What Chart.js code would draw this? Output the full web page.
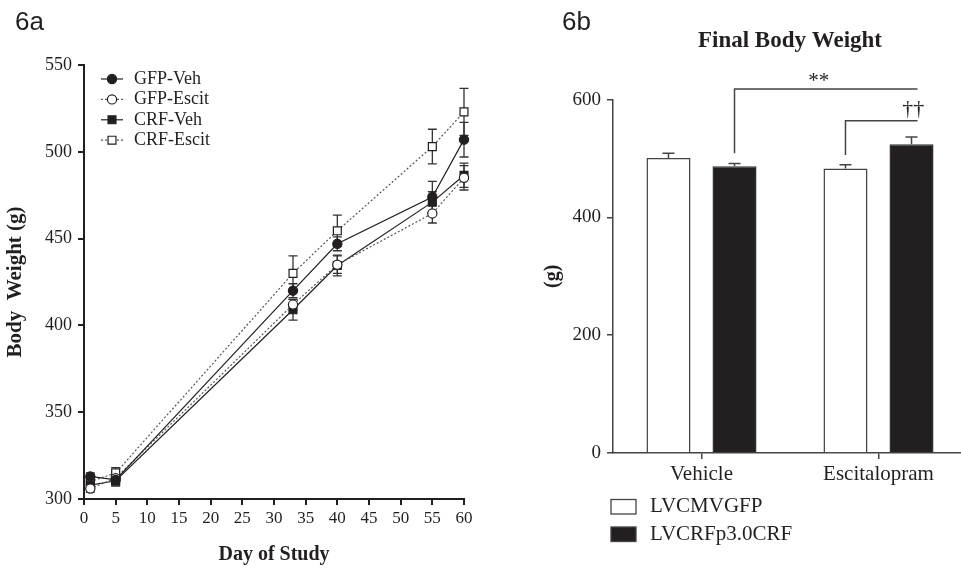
<!DOCTYPE html>
<html>
<head>
<meta charset="utf-8">
<script src="https://cdn.jsdelivr.net/npm/chart.js@4.4.1/dist/chart.umd.min.js"></script>
<style>
  html, body { margin: 0; padding: 0; background: #fff; overflow: hidden; }
  #wrap { position: relative; width: 961px; height: 574px; overflow: hidden; }
  #lineCanvas { position: absolute; left: 0; top: 0; }
  #barCanvas { position: absolute; left: 540px; top: 0; }
</style>
</head>
<body>
<div id="wrap">
  <canvas id="lineCanvas" width="520" height="574"></canvas>
  <canvas id="barCanvas" width="427" height="574"></canvas>
</div>
<script>
// ---- 6a: body weight over the study ----
const days = [1, 5, 33, 40, 55, 60];
const gfpVeh = [313, 311, 420, 447, 474, 507];
const gfpVehErr = [2, 3, 4, 4, 9, 10];
const gfpEscit = [306, 312, 412, 435, 464.5, 485];
const gfpEscitErr = [2, 3, 3, 5, 5.5, 7];
const crfVeh = [308, 310.5, 409, 434.5, 471, 486.5];
const crfVehErr = [2, 3, 6, 6, 6, 7];
const crfEscit = [310, 315, 430, 454.5, 503, 523];
const crfEscitErr = [2, 3, 10, 9, 10, 13.5];

// ---- 6b: final body weight ----
const treatments = ["Vehicle", "Escitalopram"];
const gfpFinal = [501, 483];
const gfpFinalErr = [8, 6.5];
const crfFinal = [487, 524];
const crfFinalErr = [4.5, 12.5];

// significance brackets: [category, dataset] from -> to, in grams
const sigLabels = ["**", "\u2020\u2020"];
const sigFrom = [[0, 1], [1, 0]];
const sigTo = [[1, 1], [1, 1]];
const sigLow = [509, 506];
const sigHigh = [618, 564];

const INK = "#231f20";
const SERIF = "'Liberation Serif', 'DejaVu Serif', serif";
Chart.defaults.font.family = SERIF;
Chart.defaults.color = INK;

function drawMarker(ctx, style, r, x, y) {
  ctx.beginPath();
  if (style === "rect") {
    const s = r * Math.SQRT1_2;
    ctx.rect(x - s, y - s, 2 * s, 2 * s);
  } else {
    ctx.arc(x, y, r, 0, Math.PI * 2);
  }
  ctx.fill();
  ctx.stroke();
}

const panelLabel = {
  id: "panelLabel",
  afterDraw(chart, args, opts) {
    const ctx = chart.ctx;
    ctx.save();
    ctx.font = "26px 'Liberation Sans', Arial, sans-serif";
    ctx.fillStyle = INK;
    ctx.textBaseline = "alphabetic";
    ctx.fillText(opts.text, opts.x, opts.y);
    ctx.restore();
  }
};

// symmetric error bars on the line chart, drawn under the markers
const lineErrors = {
  id: "lineErrors",
  beforeDatasetsDraw(chart) {
    const ctx = chart.ctx;
    const yScale = chart.scales.y;
    ctx.save();
    ctx.strokeStyle = "#333";
    ctx.lineWidth = 1.3;
    chart.data.datasets.forEach((ds, i) => {
      const meta = chart.getDatasetMeta(i);
      meta.data.forEach((pt, j) => {
        const v = ds.data[j].y, e = ds.errors[j];
        const top = yScale.getPixelForValue(v + e);
        const bot = yScale.getPixelForValue(v - e);
        ctx.beginPath();
        ctx.moveTo(pt.x, top); ctx.lineTo(pt.x, bot);
        ctx.moveTo(pt.x - 4.5, top); ctx.lineTo(pt.x + 4.5, top);
        ctx.moveTo(pt.x - 4.5, bot); ctx.lineTo(pt.x + 4.5, bot);
        ctx.stroke();
      });
    });
    ctx.restore();
  }
};

const lineLegend = {
  id: "lineLegend",
  afterDraw(chart, args, opts) {
    const ctx = chart.ctx;
    ctx.save();
    ctx.font = "18px " + SERIF;
    ctx.textBaseline = "middle";
    chart.data.datasets.forEach((ds, i) => {
      const y = opts.y + i * opts.rowHeight;
      ctx.strokeStyle = ds.borderColor;
      ctx.lineWidth = ds.borderWidth;
      ctx.setLineDash(ds.borderDash || []);
      ctx.beginPath();
      ctx.moveTo(opts.x, y);
      ctx.lineTo(opts.x + opts.lineLength, y);
      ctx.stroke();
      ctx.setLineDash([]);
      ctx.fillStyle = ds.pointBackgroundColor;
      ctx.strokeStyle = ds.pointBorderColor;
      ctx.lineWidth = ds.pointBorderWidth;
      drawMarker(ctx, ds.pointStyle, ds.pointRadius, opts.x + opts.lineLength / 2, y);
      ctx.fillStyle = INK;
      ctx.fillText(ds.label, opts.x + opts.textOffset, y);
    });
    ctx.restore();
  }
};

function lineSet(label, values, errors, dashed, style, filled) {
  return {
    label,
    data: days.map((d, i) => ({ x: d, y: values[i] })),
    errors,
    clip: false,
    borderColor: dashed ? "#555" : INK,
    borderWidth: 1.2,
    borderDash: dashed ? [2, 2] : [],
    pointStyle: style,
    pointRadius: style === "rect" ? 5.6 : 4.6,
    pointBorderWidth: 1.2,
    pointBackgroundColor: filled ? INK : "#fff",
    pointBorderColor: INK,
    pointHoverRadius: 0,
    tension: 0
  };
}

new Chart(document.getElementById("lineCanvas"), {
  type: "line",
  data: {
    datasets: [
      lineSet("GFP-Veh", gfpVeh, gfpVehErr, false, "circle", true),
      lineSet("GFP-Escit", gfpEscit, gfpEscitErr, true, "circle", false),
      lineSet("CRF-Veh", crfVeh, crfVehErr, false, "rect", true),
      lineSet("CRF-Escit", crfEscit, crfEscitErr, true, "rect", false)
    ]
  },
  options: {
    responsive: false,
    animation: false,
    layout: { padding: { top: 65, right: 56, left: 0, bottom: 0 } },
    plugins: {
      legend: { display: false },
      tooltip: { enabled: false },
      panelLabel: { text: "6a", x: 15, y: 30 },
      lineLegend: { x: 101, y: 79, rowHeight: 20.4, lineLength: 22, textOffset: 33 }
    },
    scales: {
      x: {
        type: "linear",
        min: 0,
        max: 60,
        ticks: { stepSize: 5, padding: 3, font: { size: 17 }, color: INK },
        grid: { drawOnChartArea: false, tickLength: 6, color: INK, lineWidth: 2 },
        border: { color: INK, width: 2 },
        title: {
          display: true,
          text: "Day of Study",
          font: { size: 20, weight: "bold" },
          color: INK,
          padding: { top: 0, bottom: 7 }
        },
        afterFit(scale) { scale.height = 75; }
      },
      y: {
        min: 300,
        max: 550,
        ticks: { stepSize: 50, padding: 6, font: { size: 18 }, color: INK },
        grid: { drawOnChartArea: false, tickLength: 6, color: INK, lineWidth: 2 },
        border: { color: INK, width: 2 },
        title: {
          display: true,
          text: "Body  Weight (g)",
          font: { size: 21, weight: "bold" },
          color: INK,
          padding: { top: 3, bottom: 0 }
        },
        afterFit(scale) { scale.width = 84; }
      }
    }
  },
  plugins: [panelLabel, lineErrors, lineLegend]
});

// upward error bars, brackets and legend for the bar chart
const barExtras = {
  id: "barExtras",
  afterDatasetsDraw(chart, args, opts) {
    const ctx = chart.ctx;
    const yScale = chart.scales.y;
    ctx.save();
    ctx.strokeStyle = "#444";
    ctx.lineWidth = 1.5;
    chart.data.datasets.forEach((ds, i) => {
      chart.getDatasetMeta(i).data.forEach((bar, j) => {
        const top = yScale.getPixelForValue(ds.data[j] + ds.errors[j]);
        ctx.beginPath();
        ctx.moveTo(bar.x, bar.y); ctx.lineTo(bar.x, top);
        ctx.moveTo(bar.x - 6, top); ctx.lineTo(bar.x + 6, top);
        ctx.stroke();
      });
    });

    // significance brackets
    ctx.fillStyle = INK;
    ctx.textAlign = "center";
    ctx.textBaseline = "alphabetic";
    sigLabels.forEach((lab, k) => {
      const a = chart.getDatasetMeta(sigFrom[k][1]).data[sigFrom[k][0]];
      const b = chart.getDatasetMeta(sigTo[k][1]).data[sigTo[k][0]];
      const x0 = a.x, x1 = b.x + 6;
      const y0 = yScale.getPixelForValue(sigLow[k]);
      const y1 = yScale.getPixelForValue(sigHigh[k]);
      ctx.beginPath();
      ctx.moveTo(x0, y0); ctx.lineTo(x0, y1); ctx.lineTo(x1, y1);
      ctx.stroke();
      ctx.font = (k === 0 ? "21px " : "22px ") + SERIF;
      ctx.fillText(lab, x0 + (x1 - x0) * opts.labelPos[k], y1 - opts.labelLift[k]);
    });

    // legend
    ctx.textAlign = "left";
    ctx.textBaseline = "middle";
    ctx.font = "21px " + SERIF;
    chart.data.datasets.forEach((ds, i) => {
      const y = opts.legendY + i * opts.legendRow;
      ctx.fillStyle = ds.backgroundColor;
      ctx.strokeStyle = "#444";
      ctx.lineWidth = 1.3;
      ctx.fillRect(opts.legendX, y - 7, 25, 14.5);
      ctx.strokeRect(opts.legendX, y - 7, 25, 14.5);
      ctx.fillStyle = INK;
      ctx.fillText(ds.label, opts.legendX + 39, y);
    });
    ctx.restore();
  }
};

new Chart(document.getElementById("barCanvas"), {
  type: "bar",
  data: {
    labels: treatments,
    datasets: [
      {
        label: "LVCMVGFP",
        data: gfpFinal,
        errors: gfpFinalErr,
        backgroundColor: "#fff",
        borderColor: "#444",
        borderWidth: 1.5,
        categoryPercentage: 0.746,
        barPercentage: 0.667
      },
      {
        label: "LVCRFp3.0CRF",
        data: crfFinal,
        errors: crfFinalErr,
        backgroundColor: INK,
        borderColor: "#333",
        borderWidth: 1.5,
        categoryPercentage: 0.746,
        barPercentage: 0.667
      }
    ]
  },
  options: {
    responsive: false,
    animation: false,
    layout: { padding: 0 },
    plugins: {
      legend: { display: false },
      tooltip: { enabled: false },
      title: {
        display: true,
        fullSize: false,
        text: "Final Body Weight",
        font: { size: 23, weight: "bold" },
        color: INK,
        padding: { top: 27, bottom: 45 }
      },
      panelLabel: { text: "6b", x: 22, y: 30 },
      barExtras: {
        labelPos: [0.46, 0.94],
        labelLift: [2, 6],
        legendX: 71,
        legendY: 506.5,
        legendRow: 27.5
      }
    },
    scales: {
      x: {
        offset: true,
        ticks: { padding: 3, font: { size: 21 }, color: INK },
        grid: { offset: false, drawOnChartArea: false, tickLength: 6, color: "#444", lineWidth: 1.5 },
        border: { color: "#444", width: 1.5 },
        afterFit(scale) { scale.height = 121; }
      },
      y: {
        min: 0,
        max: 600,
        ticks: { stepSize: 200, padding: 6, font: { size: 19 }, color: INK },
        grid: { drawOnChartArea: false, tickLength: 6, color: "#444", lineWidth: 1.5 },
        border: { color: "#444", width: 1.5 },
        title: {
          display: true,
          text: "(g)",
          font: { size: 20, weight: "bold" },
          color: INK,
          padding: { top: 1, bottom: 0 }
        },
        afterFit(scale) { scale.width = 73; }
      }
    }
  },
  plugins: [panelLabel, barExtras]
});
</script>
</body>
</html>
